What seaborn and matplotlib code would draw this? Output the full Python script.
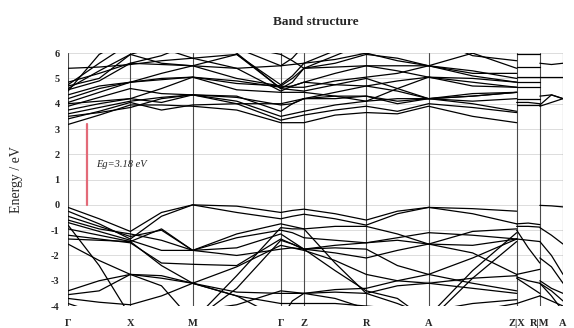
import numpy as np
import pandas as pd
import seaborn as sns
import matplotlib.pyplot as plt

# ----------------- k-path -----------------
# segment lengths along the path (Γ-X = 1)
SEG_LEN = [1.0, 1.0, 1.414, 0.372, 1.0, 1.0, 1.414, 0.372, 0.372]
TICK_LABELS = ["Γ", "X", "M", "Γ", "Z", "R", "A", "Z|X", "R|M", "A"]
# each band: Γ m X m M m Γ m Z m R m A m Z | X m R | M m A  (m = segment middle)
nan = np.nan

VALENCE = [
    [-0.10, -0.55, -1.05, -0.30, 0.00, -0.05, -0.30, -0.22, -0.17, -0.35, -0.60, -0.25, -0.10, -0.15, -0.25, -0.75, -0.72, -0.78, -0.02, -0.04, -0.08],
    [-0.25, -0.75, -1.35, -0.45, 0.00, -0.30, -0.55, -0.45, -0.37, -0.55, -0.80, -0.35, -0.10, -0.35, -0.75, -0.85, -0.85, -0.88, -0.90, -1.20, -1.55],
    [-0.45, -0.85, -1.25, -1.00, -1.80, -1.15, -0.75, -0.85, -0.95, -0.85, -0.85, -1.15, -1.55, -1.05, -0.95, -1.35, -1.40, -1.45, -1.45, -2.00, -2.75],
    [-0.70, -1.05, -1.40, -1.80, -1.80, -1.30, -1.00, -1.10, -1.30, -1.40, -1.50, -1.40, -1.55, -1.60, -1.35, -1.00, -1.70, -2.30, -2.10, -2.45, -3.10],
    [-0.95, -1.20, -1.45, -0.95, -1.80, -1.70, -1.15, -1.45, -1.75, -1.90, -2.10, -1.80, -1.55, -1.90, -2.75, -2.75, -2.65, -2.55, -3.00, -3.30, -3.50],
    [-1.20, -1.35, -1.50, -2.30, -2.35, -2.40, -1.35, -1.55, -1.75, -1.70, -1.75, -2.40, -2.75, -2.10, -1.35, -2.85, -3.00, -3.10, -3.60, -3.80, -4.00],
    [-1.35, -1.40, -1.45, -2.40, -3.10, -2.45, -1.60, -1.70, -1.80, -2.20, -2.75, -3.00, -3.10, -2.90, -2.80, -3.90, -3.75, -3.60, -3.10, -3.40, -3.80],
    [-0.80, -2.40, -4.40, -4.20, -4.60, -2.80, -0.90, -0.95, -0.95, -2.30, -3.50, -3.90, -4.40, -2.60, -1.10, -4.20, -4.20, -4.20, -4.50, -4.50, -4.50],
    [-1.55, -2.20, -2.75, -2.90, -3.10, -3.60, -4.50, -3.80, -3.50, -3.45, -3.50, -3.20, -3.10, -3.30, -3.50, -4.40, -4.40, -4.40, -4.60, -4.60, -4.60],
    [-3.40, -3.00, -2.75, -3.20, -4.60, -3.30, -1.40, -1.55, -1.75, -2.60, -3.40, -3.70, -4.60, -2.90, -1.45, -4.40, -4.40, -4.40, -4.60, -4.60, -4.60],
    [-3.55, -3.40, -2.75, -2.80, -3.10, -3.45, -3.50, -3.50, -3.50, -3.35, -3.30, -3.00, -2.75, -3.10, -3.40, -2.90, -3.20, -3.50, -3.10, -3.60, -4.20],
    [-3.70, -3.85, -3.95, -3.60, -3.10, -3.60, -3.90, -3.90, -3.90, -3.90, -4.00, -4.10, -4.20, -3.90, -3.75, -4.50, -4.50, -4.50, -4.40, -4.40, -4.40],
    [-3.90, -4.30, -4.50, -4.30, -4.20, -3.95, -3.40, -3.45, -3.50, -3.70, -4.10, -4.40, -4.60, -4.20, -3.90, -4.50, -4.50, -4.50, -4.50, -4.50, -4.50],
    [-0.60, -0.95, -1.15, -1.40, -1.80, -2.00, -1.75, -1.70, -1.75, -1.60, -1.50, -1.30, -1.10, -1.20, -1.35, nan, nan, nan, nan, nan, nan],
]

CONDUCTION = [
    [3.18, 3.55, 3.95, 3.95, 3.90, 3.75, 3.25, 3.25, 3.25, 3.55, 3.65, 3.60, 3.90, 3.50, 3.25, 3.95, 3.95, 3.95, 3.90, 4.05, 4.20],
    [3.40, 3.70, 4.05, 3.75, 3.95, 4.00, 3.35, 3.45, 3.55, 3.75, 3.90, 3.70, 4.00, 3.85, 3.65, 4.05, 4.05, 4.00, 3.95, 4.35, 4.20],
    [3.60, 3.85, 4.10, 4.25, 4.35, 4.10, 3.50, 3.60, 3.70, 3.95, 4.10, 4.20, 4.20, 4.00, 3.70, 4.20, 4.20, 4.20, 4.30, 4.35, 4.20],
    [3.75, 4.00, 4.20, 4.05, 4.35, 4.30, 3.70, 4.00, 4.20, 4.20, 4.30, 4.00, 4.20, 4.10, 4.20, 4.65, 4.65, 4.65, 5.05, 5.05, 5.05],
    [3.90, 4.25, 4.60, 4.40, 4.35, 4.00, 4.00, 4.10, 4.20, 4.45, 4.70, 4.50, 4.20, 4.40, 4.45, 4.85, 4.85, 4.85, 5.60, 5.55, 5.60],
    [4.00, 4.10, 4.20, 4.60, 5.05, 4.55, 4.45, 4.45, 4.45, 4.30, 4.10, 4.60, 5.05, 4.70, 4.65, 5.05, 5.05, 5.05, nan, nan, nan],
    [4.20, 4.60, 4.85, 4.95, 5.05, 4.90, 4.65, 4.70, 4.85, 4.75, 4.70, 4.90, 5.05, 5.00, 4.85, 5.45, 5.45, 5.45, nan, nan, nan],
    [4.35, 4.70, 4.85, 5.20, 5.50, 5.00, 4.70, 5.00, 5.40, 5.45, 5.50, 5.50, 5.50, 5.20, 5.20, 5.95, 5.95, 5.95, nan, nan, nan],
    [4.60, 5.30, 5.95, 5.60, 5.50, 5.95, 4.75, 5.10, 5.60, 6.10, 6.00, 6.20, 6.60, 5.90, 5.70, nan, nan, nan, nan, nan, nan],
    [4.75, 5.60, 6.40, 6.60, 6.80, 6.00, 4.60, 4.85, 5.40, 5.90, 6.40, 6.60, 6.60, 6.00, 5.40, nan, nan, nan, nan, nan, nan],
    [4.85, 5.20, 5.60, 5.55, 5.50, 5.40, 5.50, 5.55, 5.60, 5.75, 6.00, 5.70, 5.50, 5.30, 5.00, nan, nan, nan, nan, nan, nan],
    [5.40, 5.45, 5.55, 5.70, 5.80, 5.40, 4.50, 4.70, 4.85, 5.20, 5.50, 5.30, 5.05, 4.85, 4.65, nan, nan, nan, nan, nan, nan],
    [4.50, 5.95, 6.60, 6.20, 5.80, 5.95, 4.60, 4.55, 4.50, 4.75, 5.00, 4.60, 4.20, 4.30, 4.45, nan, nan, nan, nan, nan, nan],
    [4.55, 4.90, 5.60, 5.90, 6.40, 6.20, 5.50, 5.80, 6.30, 6.30, 6.30, 6.30, 6.30, 6.30, 6.30, nan, nan, nan, nan, nan, nan],
    [4.70, 5.00, 5.95, 6.30, 6.30, 6.30, 5.95, 5.70, 5.40, 5.60, 5.95, 5.80, 5.50, 6.00, 6.50, nan, nan, nan, nan, nan, nan],
    [3.50, 3.65, 3.85, 4.20, 4.35, 4.25, 3.95, 4.00, 4.20, 4.30, 4.30, 4.10, 4.20, 4.30, 4.45, nan, nan, nan, nan, nan, nan],
    [4.05, 4.45, 4.85, 5.00, 5.05, 4.80, 4.70, 4.65, 4.65, 4.90, 5.05, 5.20, 5.50, 5.10, 4.85, nan, nan, nan, nan, nan, nan],
]

GAP = 3.18
GAP_K = 0.3


# ----------------- Build long table -----------------
def k_nodes():
    """k position of every node (ends + middles) and the part it belongs to."""
    ticks = np.concatenate([[0.0], np.cumsum(SEG_LEN)])
    ks, parts = [], []
    # continuous Γ-X-M-Γ-Z-R-A-Z, then X-R, then M-A
    for part, seg_ids in enumerate([range(0, 7), [7], [8]]):
        first = True
        for s in seg_ids:
            a, b = ticks[s], ticks[s + 1]
            pts = [a, (a + b) / 2, b] if first else [(a + b) / 2, b]
            ks += pts
            parts += [part] * len(pts)
            first = False
    return ticks, np.array(ks), np.array(parts)


ticks, ks, parts = k_nodes()
rows = []
for i, band in enumerate(VALENCE + CONDUCTION):
    for k, p, e in zip(ks, parts, band):
        if not np.isnan(e):
            rows.append({"k": k, "E": e, "line": f"{i}-{p}"})
df = pd.DataFrame(rows)

# ----------------- Plot -----------------
sns.set_theme(style="white")
plt.rcParams["font.family"] = ["Liberation Serif", "DejaVu Serif"]

fig = plt.figure(figsize=(5.74, 3.28), dpi=100)
ax = fig.add_axes([0.1185, 0.067, 0.8624, 0.771])

for y in range(-4, 7):
    ax.axhline(y, color="#dcdcdc", lw=0.7, zorder=0)
for t in ticks:
    ax.axvline(t, color="#4a4a4a", lw=0.8, zorder=1)

sns.lineplot(data=df, x="k", y="E", units="line", estimator=None,
             color="black", lw=0.9, sort=False, ax=ax, zorder=2)

ax.plot([GAP_K, GAP_K], [0, GAP], color="#e36a78", lw=1.6, zorder=3)
ax.text(GAP_K + 0.15, 1.6, f"Eg={GAP} eV", fontsize=7.5, style="italic",
        va="center", zorder=4)

ax.set_xlim(ticks[0], ticks[-1])
ax.set_ylim(-4, 6)
ax.set_xticks(ticks)
ax.set_xticklabels(TICK_LABELS, fontsize=7.5, fontweight="bold")
ax.set_yticks(range(-4, 7))
ax.set_yticklabels([str(v) for v in range(-4, 7)], fontsize=7.5, fontweight="bold")
ax.tick_params(axis="y", length=0, pad=6)
ax.tick_params(axis="x", length=0, pad=9)
for s in ax.spines.values():
    s.set_visible(False)
ax.set_xlabel("")
ax.set_ylabel("Energy / eV", fontsize=10, labelpad=20)
ax.set_title("Band structure", fontsize=9.5, fontweight="bold", pad=20)

fig.savefig("out.png", dpi=100)
